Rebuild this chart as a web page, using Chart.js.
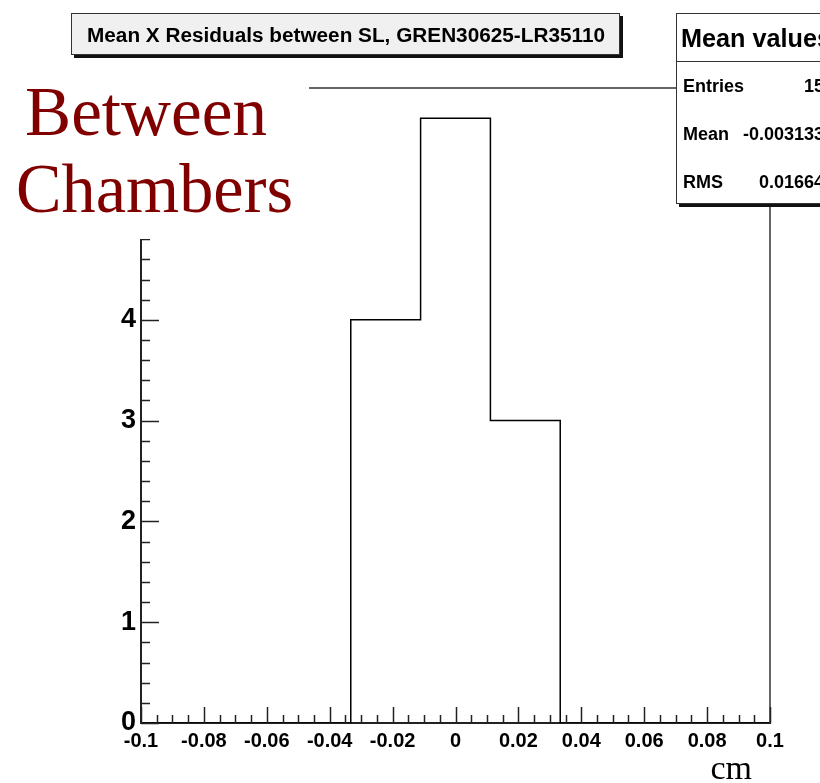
<!DOCTYPE html>
<html>
<head>
<meta charset="utf-8">
<script src="https://cdn.jsdelivr.net/npm/chart.js@4"></script>
<style>
  body { margin: 0; background: #fff; }
  #wrap { width: 820px; height: 783px; }
</style>
</head>
<body>
<div id="wrap"><canvas id="histChart" width="820" height="783"></canvas></div>
<script>
// histogram bins (low edges + last upper edge) and counts
const binEdges = [-0.1, -0.0778, -0.0556, -0.0333, -0.0111, 0.0111, 0.0333, 0.0556, 0.0778, 0.1];
const counts = [0, 0, 0, 4, 6, 3, 0, 0, 0];
const xTickStep = 0.02;
const yTickStep = 1;
const xRange = [-0.1, 0.1];
const yMax = 6.3;

const titleText = 'Mean X Residuals between SL, GREN30625-LR35110';
const statsTitle = 'Mean values';
const statsLabels = ['Entries', 'Mean', 'RMS'];
const statsValues = ['15', '-0.003133', '0.01664'];
const sideText = ['Between', 'Chambers'];
const xUnit = 'cm';

Chart.defaults.font.family = '"Liberation Sans", Arial, Helvetica, sans-serif';
Chart.defaults.color = '#000';

// each low edge carries its bin's count; the last (upper) edge repeats the last bin
const histPoints = binEdges.map((x, i) => ({ x, y: counts[Math.min(i, counts.length - 1)] }));

// fillText squeezed to a given width
function fitText(ctx, text, x, y, width) {
    const w = ctx.measureText(text).width;
    ctx.save();
    ctx.translate(x, y);
    ctx.scale(width / w, 1);
    ctx.fillText(text, 0, 0);
    ctx.restore();
}

const rootDecor = {
    id: 'rootDecor',
    afterDraw(chart) {
        const ctx = chart.ctx;
        const area = chart.chartArea;
        const xs = chart.scales.x;
        const ys = chart.scales.y;

        // frame top and right
        ctx.save();
        ctx.strokeStyle = '#333';
        ctx.lineWidth = 1.5;
        ctx.beginPath();
        ctx.moveTo(area.left, area.top);
        ctx.lineTo(area.right, area.top);
        ctx.lineTo(area.right, area.bottom);
        ctx.stroke();

        // inward ticks, ROOT style
        ctx.strokeStyle = '#222';
        ctx.lineWidth = 1.5;
        ctx.beginPath();
        for (let k = 0; k <= 40; k++) {
            const v = xRange[0] + k * 0.005;
            const px = Math.round(xs.getPixelForValue(v)) + 0.5;
            const len = k % 4 === 0 ? 16 : 8;
            ctx.moveTo(px, area.bottom);
            ctx.lineTo(px, area.bottom - len);
        }
        for (let k = 0; k * 0.2 <= yMax; k++) {
            const py = Math.round(ys.getPixelForValue(k * 0.2)) + 0.5;
            const len = k % 5 === 0 ? 18 : 9;
            ctx.moveTo(area.left, py);
            ctx.lineTo(area.left + len, py);
        }
        ctx.stroke();

        // "Between Chambers" label on white
        ctx.fillStyle = '#fff';
        ctx.fillRect(0, 62, 309, 177);
        ctx.fillStyle = '#800000';
        ctx.font = '70px "Liberation Serif", "Times New Roman", serif';
        ctx.textBaseline = 'alphabetic';
        fitText(ctx, sideText[0], 25, 135, 242);
        fitText(ctx, sideText[1], 16, 212, 277);

        // title box
        ctx.fillStyle = '#111';
        ctx.fillRect(74, 16, 549, 42);
        ctx.fillStyle = '#f0f0f0';
        ctx.fillRect(71, 13, 549, 42);
        ctx.strokeStyle = '#333';
        ctx.lineWidth = 1;
        ctx.strokeRect(71.5, 13.5, 548, 41);
        ctx.fillStyle = '#000';
        ctx.font = 'bold 20px "Liberation Sans", Arial, sans-serif';
        fitText(ctx, titleText, 87, 42, 518);

        // stats box
        ctx.fillStyle = '#111';
        ctx.fillRect(679, 16, 160, 191);
        ctx.fillStyle = '#fff';
        ctx.fillRect(676, 13, 160, 191);
        ctx.strokeStyle = '#333';
        ctx.strokeRect(676.5, 13.5, 160, 190);
        ctx.beginPath();
        ctx.moveTo(676, 61.5);
        ctx.lineTo(820, 61.5);
        ctx.stroke();
        ctx.fillStyle = '#000';
        ctx.font = 'bold 25px "Liberation Sans", Arial, sans-serif';
        fitText(ctx, statsTitle, 681, 47, 150);
        ctx.font = 'bold 18px "Liberation Sans", Arial, sans-serif';
        const rowY = [92, 140, 188];
        statsLabels.forEach((lab, i) => {
            ctx.textAlign = 'left';
            ctx.fillText(lab, 683, rowY[i]);
            ctx.textAlign = 'right';
            ctx.fillText(statsValues[i], 824, rowY[i]);
        });

        // axis unit
        ctx.textAlign = 'right';
        ctx.font = '34px "Liberation Serif", "Times New Roman", serif';
        ctx.fillText(xUnit, 752, 779);
        ctx.restore();
    }
};

new Chart(document.getElementById('histChart'), {
    type: 'line',
    data: {
        datasets: [{
            data: histPoints,
            stepped: 'before',
            borderColor: '#000',
            borderWidth: 1.5,
            pointRadius: 0,
            fill: false
        }]
    },
    options: {
        responsive: false,
        animation: false,
        layout: { padding: { top: 88, right: 50, left: 0, bottom: 0 } },
        plugins: {
            legend: { display: false },
            tooltip: { enabled: false }
        },
        scales: {
            x: {
                type: 'linear',
                min: xRange[0],
                max: xRange[1],
                grid: { display: false, drawTicks: false },
                border: { display: true, color: '#222', width: 2 },
                ticks: {
                    stepSize: xTickStep,
                    padding: 6,
                    maxRotation: 0,
                    autoSkip: false,
                    font: { size: 20, weight: 'bold' },
                    callback: v => String(Number(v.toFixed(2)))
                },
                afterFit: s => { s.height = 60; }
            },
            y: {
                min: 0,
                max: yMax,
                grid: { display: false, drawTicks: false },
                border: { display: true, color: '#222', width: 2 },
                ticks: {
                    stepSize: yTickStep,
                    includeBounds: false,
                    padding: 5,
                    font: { size: 27, weight: 'bold' }
                },
                afterFit: s => { s.width = 141; }
            }
        }
    },
    plugins: [rootDecor]
});
</script>
</body>
</html>
